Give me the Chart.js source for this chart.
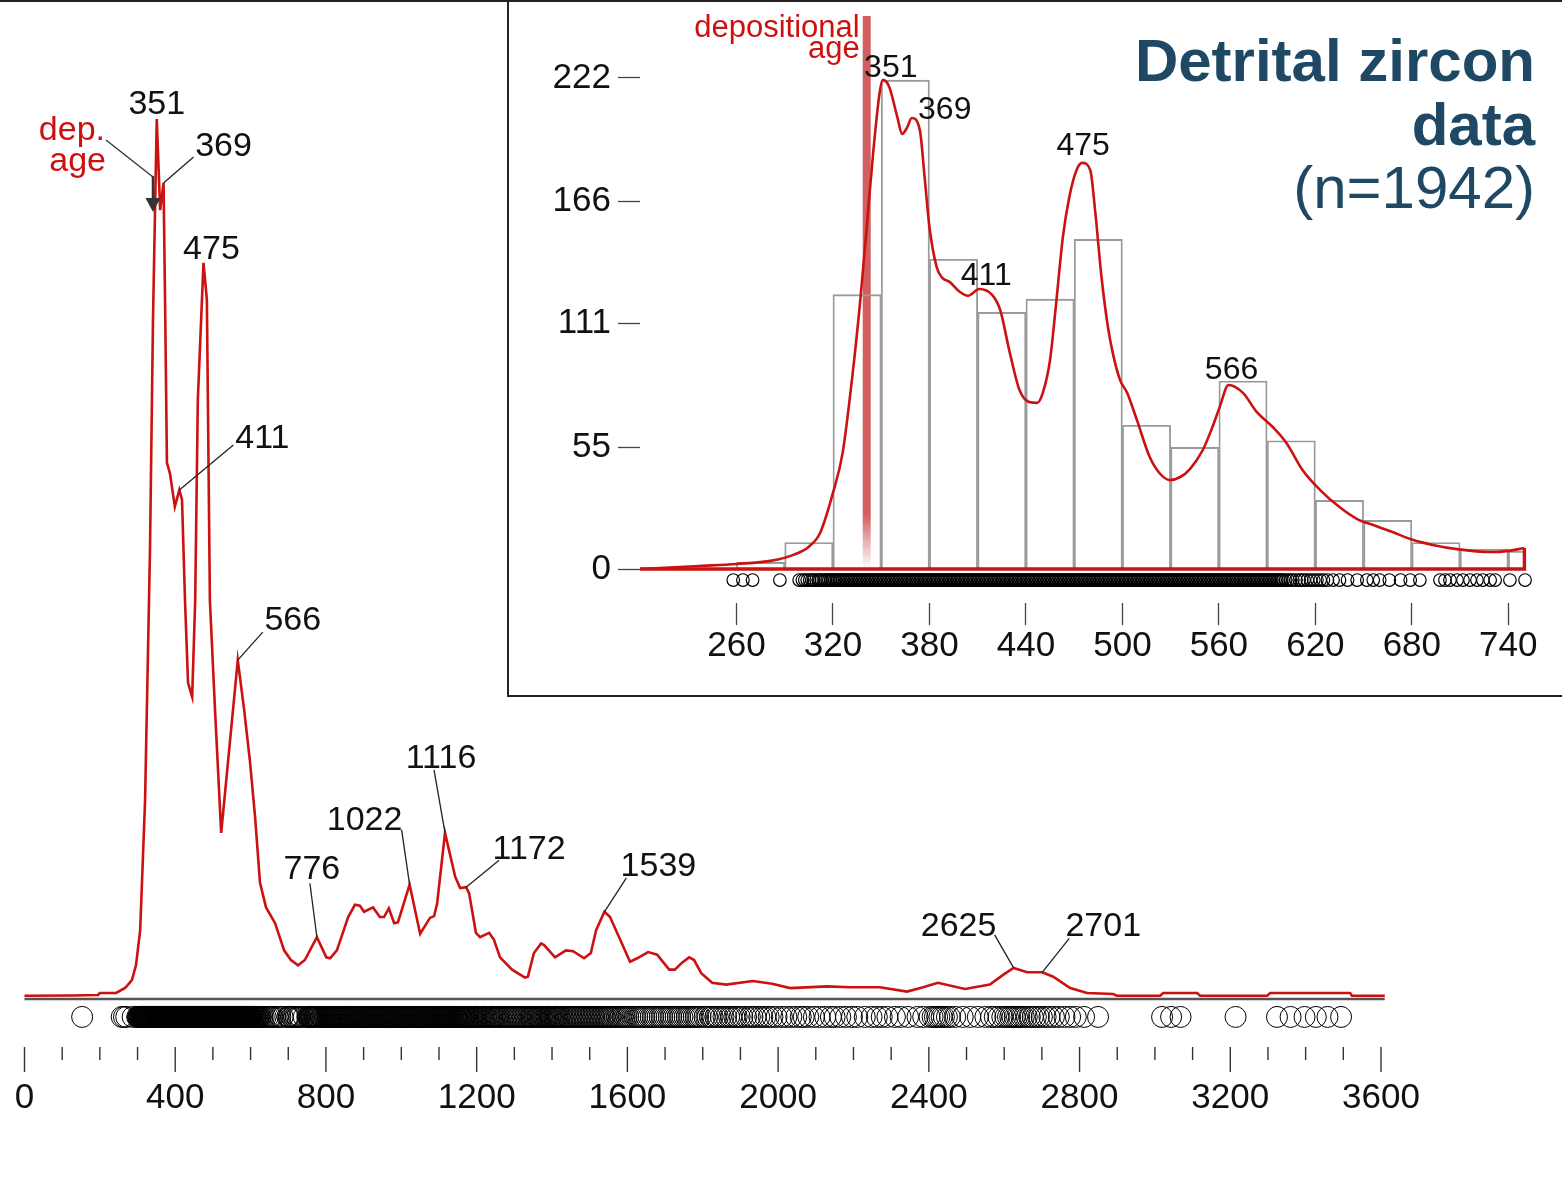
<!DOCTYPE html>
<html>
<head>
<meta charset="utf-8">
<title>Detrital zircon data (n=1942)</title>
<script src="https://cdn.jsdelivr.net/npm/chart.js@4.4.1/dist/chart.umd.min.js"></script>
<style>
  html, body { margin: 0; padding: 0; background: #fff; }
  #page { position: relative; width: 1562px; height: 1180px; overflow: hidden; background: #fff; }
  #mainCanvas { position: absolute; left: 0; top: 0; }
  #insetCanvas { position: absolute; left: 509px; top: 0; background: #fff; }
  .rule { position: absolute; background: #222; }
</style>
</head>
<body>
<div id="page">
  <canvas id="mainCanvas" width="1562" height="1180"></canvas>
  <canvas id="insetCanvas" width="1053" height="694"></canvas>
  <div class="rule" style="left:0;top:0;width:1562px;height:2px;"></div>
  <div class="rule" style="left:507px;top:0;width:2px;height:697px;"></div>
  <div class="rule" style="left:507px;top:695px;width:1055px;height:2px;"></div>
</div>
<script>
// ---------- full age range: kernel density estimate (relative density, tallest peak = 100) ----------
const kdeAges = [0, 129, 195, 200, 243, 267, 285, 296, 307, 320,
  333, 341, 351, 360, 369, 373, 378, 386, 399, 411,
  418, 426, 434, 445, 453, 460, 475, 484, 492, 506,
  522, 566, 583, 598, 612, 625, 641, 665, 689, 707,
  726, 744, 776, 801, 811, 829, 859, 877, 890, 901,
  925, 943, 954, 967, 981, 991, 1022, 1050, 1076, 1087,
  1095, 1116, 1143, 1156, 1172, 1180, 1198, 1209, 1233, 1246,
  1262, 1294, 1328, 1336, 1352, 1371, 1379, 1408, 1437, 1456,
  1485, 1503, 1517, 1539, 1554, 1578, 1607, 1626, 1655, 1679,
  1711, 1726, 1745, 1764, 1777, 1796, 1825, 1862, 1933, 1984,
  2032, 2130, 2191, 2270, 2342, 2385, 2424, 2496, 2562, 2597,
  2625, 2661, 2701, 2730, 2775, 2820, 2889, 2899, 3014, 3022,
  3112, 3120, 3298, 3306, 3518, 3523, 3610];
const kdeDensity = [0.03, 0.06, 0.11, 0.34, 0.34, 0.91, 1.82, 3.53, 7.5, 22.3,
  50.8, 77.1, 100, 89.6, 92.7, 79.4, 60.8, 59.6, 55.8, 57.7,
  56.6, 45.1, 35.7, 34.1, 45.1, 68, 83.6, 79.4, 45.1, 32.3,
  18.6, 38.3, 32.6, 26.9, 20.4, 12.9, 10.1, 8.3, 5.2, 4.1,
  3.5, 4.1, 6.7, 4.4, 4.3, 5.2, 9.0, 10.4, 10.3, 9.6,
  10.1, 9.0, 9.0, 10.0, 8.3, 8.4, 12.7, 7.1, 8.9, 9.1,
  10.5, 18.6, 13.6, 12.3, 12.4, 11.7, 7.2, 6.7, 7.2, 6.4,
  4.4, 3.0, 2.1, 2.2, 4.9, 6.0, 5.8, 4.4, 5.2, 5.1,
  4.3, 4.9, 7.5, 9.6, 9.0, 6.7, 3.9, 4.3, 5.0, 4.7,
  3.0, 3.0, 3.8, 4.4, 4.1, 2.6, 1.5, 1.3, 1.7, 1.4,
  0.9, 1.1, 1.0, 1.0, 0.5, 1.0, 1.5, 0.8, 1.3, 2.4,
  3.2, 2.7, 2.7, 2.2, 0.9, 0.34, 0.23, 0.03, 0.03, 0.34,
  0.34, 0.03, 0.03, 0.34, 0.34, 0.03, 0.03];
const mainPeakAges = [351, 369, 411, 475, 566, 776, 1022, 1116, 1172, 1539, 2625, 2701];
const mainTickLabels = ['0', '400', '800', '1200', '1600', '2000', '2400', '2800', '3200', '3600'];

// ---------- 200-750 Ma window: kernel density estimate and 30 Ma histogram ----------
const insetAges = [200, 237, 260, 282, 295, 305, 312, 320, 326, 332,
  337, 341, 345, 349, 351, 355, 360, 363, 366, 369,
  374, 377, 380, 384.5, 388, 392.5, 399, 404, 411, 419,
  424, 430, 436, 442, 447, 450.5, 455, 459, 463, 467,
  471.5, 475, 480, 483, 487, 491, 494, 498.5, 503, 509,
  517, 523, 529.5, 536, 542, 550, 556, 560.5, 566, 575,
  583.5, 593.5, 602, 612, 623, 635, 646, 656, 668, 681,
  693, 708, 729, 739, 750];
const insetDensity = [0, 1.4, 2.3, 3.8, 6.3, 10.1, 16.3, 34.4, 52.4, 86.8,
  121.6, 154.6, 188.1, 215.2, 221.1, 217.9, 204.4, 196.7, 199.4, 203.9,
  198.5, 177.2, 154.6, 136.5, 131.6, 129.8, 125.2, 123.5, 126.6, 123.9,
  117.1, 97.7, 80.9, 75.5, 75.1, 79.6, 94.5, 121.6, 150.1, 168.2,
  180.4, 183.6, 180.4, 162.3, 132.0, 109.4, 97.7, 85.5, 79.6, 67.4,
  50.6, 43.4, 40.2, 41.6, 45.2, 53.8, 64.2, 73.2, 83.2, 79.6,
  71.0, 64.2, 57.0, 44.8, 35.7, 28.0, 22.6, 19.9, 16.7, 13.1,
  10.9, 9.0, 7.7, 8.1, 9.5];
const binCentres = [275, 305, 335, 365, 395, 425, 455, 485, 515, 545, 575, 605, 635, 665, 695, 725, 755];
const binCounts = [3, 12, 124, 221, 140, 116, 122, 149, 65, 55, 85, 58, 31, 22, 12, 9, 8];
const insetPeakAges = [351, 369, 411, 475, 566];
const insetYTicks = [0, 55, 111, 166, 222];
const insetXTicks = [260, 320, 380, 440, 500, 560, 620, 680, 740];

// youngest-population (depositional) age, Ma
const depositionalAge = 341;

// ---------- individual grain ages, Ma ----------
const grainAges = [153, 258, 264, 270, 287,
  299, 301, 302.5, 304, 305.5, 307, 308, 309.5, 311, 312, 313, 314.5, 315.5, 316.5, 317.5, 318.5, 319.5,
  320, 321, 322, 323, 324, 325, 326, 327, 328, 329, 330, 331, 332, 333, 334, 335, 336, 337, 338, 339,
  340, 341, 342, 343, 344, 345, 346, 347, 348, 349, 350, 351, 352, 353, 354, 355, 356, 357, 358, 359,
  360, 361, 362, 363, 364, 365, 366, 367, 368, 369, 370, 371, 372, 373, 374, 375, 376, 377, 378, 379,
  380, 381, 382, 383, 384, 385, 386, 387, 388, 389, 390, 391, 392, 393, 394, 395, 396, 397, 398, 399,
  400, 401, 402, 403, 404, 405, 406, 407, 408, 409, 410, 411, 412, 413, 414, 415, 416, 417, 418, 419,
  420, 421, 422, 423, 424, 425, 426, 427, 428, 429, 430, 431, 432, 433, 434, 435, 436, 437, 438, 439,
  440, 441, 442, 443, 444, 445, 446, 447, 448, 449, 450, 451, 452, 453, 454, 455, 456, 457, 458, 459,
  460, 461, 462, 463, 464, 465, 466, 467, 468, 469, 470, 471, 472, 473, 474, 475, 476, 477, 478, 479,
  480, 481, 482, 483, 484, 485, 486, 487, 488, 489, 490, 491, 492, 493, 494, 495, 496, 497, 498, 499,
  500, 501, 502, 503, 504, 505, 506, 507, 508, 509, 510, 511, 512, 513, 514, 515, 516, 517, 518, 519,
  520, 521, 522, 523, 524, 525, 526, 527, 528, 529, 530, 531, 532, 533, 534, 535, 536, 537, 538, 539,
  540, 541, 542, 543, 544, 545, 546, 547, 548, 549, 550, 551, 552, 553, 554, 555, 556, 557, 558, 559,
  560, 561, 562, 563, 564, 565, 566, 567, 568, 569, 570, 571, 572, 573, 574, 575, 576, 577, 578, 579,
  580, 581, 582, 583, 584, 585, 586, 587, 588, 589, 590, 591, 592, 593, 594, 595, 596, 597, 598, 599, 600,
  601.5, 603, 604.5, 606, 608, 610, 611.5, 613, 615, 617, 619, 621, 623, 625, 627.5,
  631, 635, 640, 646, 652, 656, 660, 666, 673, 679, 685,
  697.5, 700.6, 703.7, 708.1, 711.8, 716.2, 720.5, 724.2, 728.7, 731.8, 741, 750.4,
  754, 756, 758, 760, 762, 764, 767, 769, 771, 773, 775, 777, 779, 781, 784, 786, 788, 790, 792, 795,
  797, 799, 801, 803, 805, 808, 810, 812, 814, 816, 818, 821, 823, 825, 827, 829, 831, 834, 836, 838,
  840, 842, 845, 847, 849, 851, 853, 855, 858, 860, 862, 864, 866, 868, 871, 873, 875, 877, 879, 882,
  884, 886, 888, 890, 893, 895, 897, 899, 901, 904, 906, 908, 910, 912, 914, 917, 919, 921, 923, 925,
  927, 930, 932, 934, 936, 938, 941, 943, 945, 947, 949, 952, 954, 956, 958, 960, 962, 965, 967, 969,
  971, 973, 975, 978, 980, 982, 984, 986, 989, 991, 993, 995, 997, 1000, 1002, 1004, 1006, 1008, 1010,
  1013, 1015, 1017, 1019, 1021, 1023, 1026, 1028, 1030, 1032, 1034, 1037, 1039, 1041, 1043, 1045, 1047,
  1050, 1052, 1054, 1056, 1058, 1061, 1063, 1065, 1067, 1069, 1071, 1074, 1076, 1078, 1080, 1082, 1085,
  1087, 1089, 1091, 1093, 1095, 1098, 1100, 1102, 1104, 1106, 1108, 1110, 1112, 1114, 1116, 1118, 1120,
  1122, 1124, 1126, 1128, 1131, 1133, 1135, 1137, 1139, 1142, 1144, 1146, 1148, 1150, 1153, 1155, 1157,
  1159, 1161, 1164, 1166, 1168, 1170, 1172, 1175, 1177, 1179, 1182, 1185, 1188, 1191, 1194, 1197, 1200,
  1203, 1206, 1209, 1212, 1215, 1218, 1221, 1224, 1227, 1230, 1233, 1236, 1239, 1242, 1245, 1248, 1251,
  1254, 1257, 1260, 1264, 1268, 1272, 1276, 1280, 1284, 1288, 1292, 1296, 1300, 1304, 1308, 1312, 1316,
  1320, 1324, 1328, 1332, 1336, 1340, 1343, 1346, 1349, 1352, 1355, 1358, 1361, 1364, 1367, 1370, 1373,
  1376, 1379, 1382, 1385, 1388, 1391, 1394, 1397, 1400, 1403, 1406, 1409, 1412, 1415, 1418, 1421, 1425,
  1429, 1433, 1437, 1441, 1445, 1449, 1453, 1457, 1461, 1465, 1469, 1473, 1477, 1481, 1485, 1489, 1493,
  1497, 1501, 1505, 1509, 1513, 1517, 1521, 1525, 1529, 1533, 1537, 1541, 1545, 1549, 1553, 1557, 1562,
  1567, 1572, 1577, 1582, 1587, 1592, 1597, 1602, 1608, 1614, 1620, 1626, 1632, 1638, 1644, 1650, 1656,
  1662, 1668, 1674, 1680, 1686, 1692, 1698, 1704, 1710, 1716, 1722, 1728, 1734, 1740, 1746, 1752, 1758,
  1764, 1770, 1776, 1782, 1788, 1794,
  1805, 1812, 1820, 1826, 1834, 1840, 1848, 1855, 1862, 1870, 1876, 1884, 1890, 1898, 1905, 1915, 1925,
  1932, 1940, 1950, 1958, 1966, 1975, 1985, 1996,
  2010, 2022, 2035, 2048, 2060, 2068, 2080, 2095, 2110, 2125, 2140, 2150, 2165, 2180, 2196, 2210, 2230,
  2248, 2262, 2275, 2290, 2310, 2325, 2345, 2370, 2385,
  2402, 2410, 2416, 2422, 2428, 2434, 2440, 2448, 2456, 2470, 2490,
  2510, 2530, 2550, 2565, 2575, 2585, 2595, 2603, 2610, 2616, 2622, 2628, 2634, 2640, 2646, 2652, 2660,
  2668, 2676, 2684, 2692, 2700, 2710, 2720, 2732, 2745, 2760, 2775, 2790, 2812, 2849,
  3019, 3043, 3068, 3214, 3324, 3360, 3397, 3427, 3458, 3494];

// ---------- shared styling ----------
const FONT = "'Liberation Sans', Arial, Helvetica, sans-serif";
const RED = '#cc1111';
Chart.defaults.font.family = FONT;
Chart.defaults.color = '#111';

const mainRugLevel = -2.39;   // row of grain circles under the main curve
const insetRugLevel = -4.97;  // row of grain circles under the histogram

function densityAt(ages, dens, age) {
  const i = ages.indexOf(age);
  return i >= 0 ? dens[i] : 0;
}

// label placement around each main peak: text position and leader start, px from the peak
const mainLabelLayout = {
  351:  { tx: 0,   ty: -5 },
  369:  { tx: 60,  ty: -27, lx: 30,  ly: -26 },
  411:  { tx: 83,  ty: -42, lx: 54,  ly: -45 },
  475:  { tx: 8,   ty: -4 },
  566:  { tx: 55,  ty: -30, lx: 25,  ly: -28 },
  776:  { tx: -5,  ty: -58, lx: -7,  ly: -54 },
  1022: { tx: -45, ty: -55, lx: -8,  ly: -55 },
  1116: { tx: -4,  ty: -65, lx: -11, ly: -63 },
  1172: { tx: 63,  ty: -28, lx: 33,  ly: -27 },
  1539: { tx: 54,  ty: -36, lx: 22,  ly: -34 },
  2625: { tx: -55, ty: -32, lx: -19, ly: -33 },
  2701: { tx: 61,  ty: -36, lx: 27,  ly: -34 }
};
const insetLabelLayout = {
  351: { tx: 8, ty: -3 },
  369: { tx: 33, ty: 1 },
  411: { tx: 7, ty: -4 },
  475: { tx: 1, ty: -8 },
  566: { tx: 3, ty: -6 }
};

// ---------- main chart decorations: tick marks, peak labels, depositional-age arrow ----------
const mainDecor = {
  id: 'mainDecor',
  afterDatasetsDraw(chart) {
    const { ctx, chartArea, scales: { x, y } } = chart;
    ctx.save();
    // tick marks: long every 400 Ma, short every 100 Ma
    ctx.strokeStyle = '#333';
    ctx.lineWidth = 1.4;
    x.ticks.forEach(t => {
      const px = x.getPixelForValue(t.value);
      const major = mainTickLabels.includes(String(t.value));
      ctx.beginPath();
      ctx.moveTo(px, chartArea.bottom + 2);
      ctx.lineTo(px, chartArea.bottom + (major ? 27 : 15));
      ctx.stroke();
    });

    // peak labels with leaders
    ctx.font = '34px ' + FONT;
    ctx.textAlign = 'center';
    ctx.textBaseline = 'alphabetic';
    mainPeakAges.forEach(age => {
      const ax = x.getPixelForValue(age);
      const ay = y.getPixelForValue(densityAt(kdeAges, kdeDensity, age));
      const L = mainLabelLayout[age];
      if (L.lx !== undefined) {
        ctx.strokeStyle = '#222';
        ctx.lineWidth = 1.3;
        ctx.beginPath();
        ctx.moveTo(ax + L.lx, ay + L.ly);
        ctx.lineTo(ax, ay);
        ctx.stroke();
      }
      ctx.fillStyle = '#111';
      ctx.fillText(String(age), ax + L.tx, ay + L.ty);
    });

    // depositional-age arrow
    const dx = x.getPixelForValue(depositionalAge);
    const tipY = y.getPixelForValue(89.4);
    ctx.strokeStyle = '#333';
    ctx.fillStyle = '#333';
    ctx.lineWidth = 1.3;
    ctx.beginPath();
    ctx.moveTo(dx - 47, tipY - 72);
    ctx.lineTo(dx, tipY - 35);
    ctx.stroke();
    ctx.lineWidth = 2.5;
    ctx.beginPath();
    ctx.moveTo(dx, tipY - 36);
    ctx.lineTo(dx, tipY - 12);
    ctx.stroke();
    ctx.beginPath();
    ctx.moveTo(dx - 7.5, tipY - 14);
    ctx.lineTo(dx + 7.5, tipY - 14);
    ctx.lineTo(dx, tipY);
    ctx.closePath();
    ctx.fill();
    ctx.fillStyle = RED;
    ctx.font = '34px ' + FONT;
    ctx.textAlign = 'right';
    ctx.fillText('dep.', dx - 48, tipY - 72);
    ctx.fillText('age', dx - 47, tipY - 41);
    ctx.restore();
  }
};

// ---------- inset decorations: depositional-age band, peak labels, heading ----------
const insetBand = {
  id: 'insetBand',
  beforeDatasetsDraw(chart) {
    const { ctx, scales: { x, y } } = chart;
    const px = x.getPixelForValue(depositionalAge);
    const top = 16;
    const bottom = y.getPixelForValue(0);
    const g = ctx.createLinearGradient(0, top, 0, bottom);
    g.addColorStop(0, 'rgba(196,50,50,0.78)');
    g.addColorStop(0.9, 'rgba(196,50,50,0.78)');
    g.addColorStop(1, 'rgba(196,50,50,0)');
    ctx.save();
    ctx.fillStyle = g;
    ctx.fillRect(px - 4, top, 8, bottom - top);
    ctx.restore();
  }
};

const insetDecor = {
  id: 'insetDecor',
  afterDatasetsDraw(chart) {
    const { ctx, scales: { x, y } } = chart;
    ctx.save();
    ctx.font = '32px ' + FONT;
    ctx.textAlign = 'center';
    ctx.textBaseline = 'alphabetic';
    ctx.fillStyle = '#111';
    insetPeakAges.forEach(age => {
      const ax = x.getPixelForValue(age);
      const ay = y.getPixelForValue(densityAt(insetAges, insetDensity, age));
      const L = insetLabelLayout[age];
      ctx.fillText(String(age), ax + L.tx, ay + L.ty);
    });

    // depositional age caption, right-aligned against the band
    const bx = x.getPixelForValue(depositionalAge);
    ctx.fillStyle = RED;
    ctx.font = '31px ' + FONT;
    ctx.textAlign = 'right';
    ctx.fillText('depositional', bx - 7, 37);
    ctx.fillText('age', bx - 7, 58);

    // heading
    const right = chart.width - 27;
    ctx.fillStyle = '#1e4864';
    ctx.font = 'bold 60px ' + FONT;
    ctx.fillText('Detrital zircon', right, 81);
    ctx.fillText('data', right, 145);
    ctx.font = '60px ' + FONT;
    ctx.fillText('(n=1942)', right, 208);
    ctx.restore();
  }
};

// ---------- main chart ----------
new Chart(document.getElementById('mainCanvas'), {
  type: 'line',
  data: {
    datasets: [
      {
        label: 'KDE',
        data: kdeAges.map((a, i) => ({ x: a, y: kdeDensity[i] })),
        borderColor: RED,
        borderWidth: 2.6,
        pointRadius: 0,
        tension: 0,
        clip: false,
        order: 0
      },
      {
        label: 'axis',
        data: [{ x: 0, y: -0.35 }, { x: 3610, y: -0.35 }],
        borderColor: '#555',
        borderWidth: 2.6,
        pointRadius: 0,
        clip: false,
        order: 1
      },
      {
        type: 'scatter',
        label: 'grains',
        data: grainAges.map(a => ({ x: a, y: mainRugLevel })),
        pointRadius: 10.5,
        pointBorderWidth: 1,
        pointBorderColor: '#000',
        pointBackgroundColor: 'rgba(0,0,0,0)',
        showLine: false,
        clip: false,
        order: 2
      }
    ]
  },
  options: {
    responsive: false,
    animation: false,
    events: [],
    layout: { padding: { left: 24.5, right: 181, top: 75.1, bottom: 0 } },
    plugins: { legend: { display: false }, tooltip: { enabled: false } },
    scales: {
      x: {
        type: 'linear',
        min: 0,
        max: 3600,
        afterFit(s) { s.height = 135; s.paddingLeft = 0; s.paddingRight = 0; },
        border: { display: false },
        grid: { display: true, drawOnChartArea: false, drawTicks: false },
        ticks: {
          stepSize: 100,
          autoSkip: false,
          maxRotation: 0,
          padding: 32,
          color: '#111',
          font: { size: 35 },
          callback: v => (mainTickLabels.includes(String(v)) ? String(v) : '')
        }
      },
      y: { display: false, min: -5.59, max: 105 }
    }
  },
  plugins: [mainDecor]
});

// ---------- inset chart ----------
new Chart(document.getElementById('insetCanvas'), {
  data: {
    datasets: [
      {
        type: 'line',
        label: 'KDE 200-750 Ma',
        data: insetAges.map((a, i) => ({ x: a, y: insetDensity[i] })),
        borderColor: RED,
        borderWidth: 2.6,
        pointRadius: 0,
        cubicInterpolationMode: 'monotone',
        order: 0
      },
      {
        type: 'line',
        label: 'closure',
        data: [{ x: 750, y: insetDensity[insetDensity.length - 1] }, { x: 750, y: 0 }, { x: 200, y: 0 }],
        borderColor: RED,
        borderWidth: 3.4,
        pointRadius: 0,
        tension: 0,
        clip: false,
        order: 1
      },
      {
        type: 'scatter',
        label: 'grains',
        data: grainAges.filter(a => a >= 200 && a <= 752).map(a => ({ x: a, y: insetRugLevel })),
        pointRadius: 6.3,
        pointBorderWidth: 1.2,
        pointBorderColor: '#000',
        pointBackgroundColor: 'rgba(0,0,0,0)',
        showLine: false,
        clip: false,
        order: 2
      },
      {
        type: 'bar',
        label: 'histogram',
        data: binCentres.map((c, i) => ({ x: c, y: binCounts[i] })),
        backgroundColor: 'rgba(0,0,0,0)',
        borderColor: '#9a9a9a',
        borderWidth: 1.2,
        barPercentage: 1,
        categoryPercentage: 1,
        grouped: false,
        order: 3
      }
    ]
  },
  options: {
    responsive: false,
    animation: false,
    events: [],
    layout: { padding: { left: 0, right: 37.6, top: 60.2, bottom: 0 } },
    plugins: { legend: { display: false }, tooltip: { enabled: false } },
    scales: {
      x: {
        type: 'linear',
        min: 200,
        max: 750,
        offset: false,
        afterBuildTicks(s) { s.ticks = insetXTicks.map(v => ({ value: v })); },
        afterFit(s) { s.height = 694 - 603.1; s.paddingLeft = 0; s.paddingRight = 0; },
        border: { display: false },
        grid: { offset: false, drawOnChartArea: false, drawTicks: true, tickLength: 22, tickColor: '#444', tickWidth: 1.3 },
        ticks: { autoSkip: false, maxRotation: 0, padding: 0, color: '#111', font: { size: 35 } }
      },
      y: {
        type: 'linear',
        min: -15.4,
        max: 230,
        afterBuildTicks(s) { s.ticks = insetYTicks.map(v => ({ value: v })); },
        afterFit(s) { s.width = 131; s.paddingTop = 0; s.paddingBottom = 0; },
        border: { display: false },
        grid: { drawOnChartArea: false, drawTicks: true, tickLength: 22, tickColor: '#444', tickWidth: 1.3 },
        ticks: { padding: 7, color: '#111', font: { size: 35 } }
      }
    }
  },
  plugins: [insetBand, insetDecor]
});
</script>
</body>
</html>
